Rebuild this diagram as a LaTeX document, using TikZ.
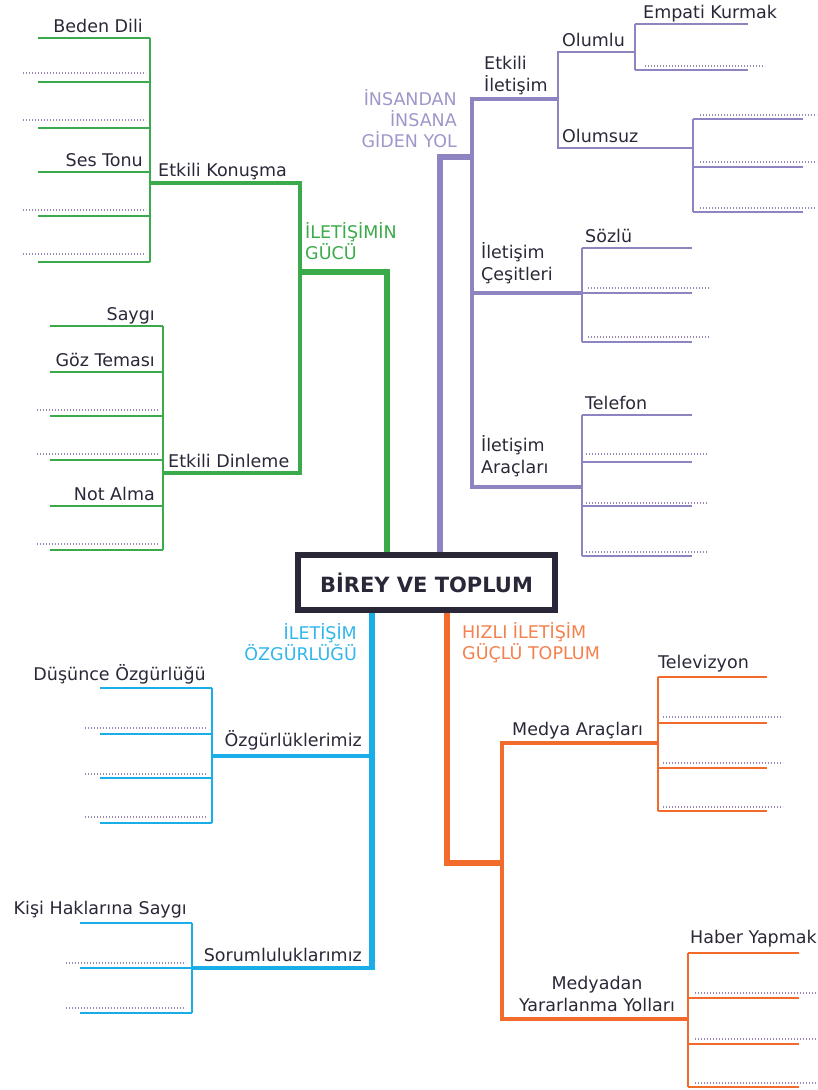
\documentclass[tikz,border=0pt]{standalone}
\usepackage{fontspec}
\setmainfont{DejaVu Sans}
\usetikzlibrary{positioning}
\definecolor{grn}{HTML}{3BAA4A}
\definecolor{prp}{HTML}{8E84C1}
\definecolor{blu}{HTML}{19AEE8}
\definecolor{org}{HTML}{F26B2B}
\definecolor{ink}{HTML}{2A2838}
\definecolor{dotc}{HTML}{9A86B4}
\tikzset{
  trunk/.style={line width=6.5pt},
  branch/.style={line width=3.2pt},
  twig/.style={line width=1.8pt},
  blank/.style={dotc,line width=1.3pt,dash pattern=on 1.2pt off 1.8pt},
  lbl/.style={inner sep=0pt,text=ink,font=\fontsize{17.5}{21.5}\selectfont},
  head/.style={inner sep=0pt,font=\fontsize{17.5}{21}\selectfont},
  hub/.style={draw=ink,line width=6.5pt,minimum width=257pt,minimum height=55pt,
    inner sep=0pt,text=ink,font=\bfseries\fontsize{21}{25}\selectfont}
}

\begin{document}
\begin{tikzpicture}[x=1pt,y=-1pt,line join=miter]
\useasboundingbox (0,0) rectangle (817,1090);
\node[hub] (hub) at (426.5,582.5) {BİREY VE TOPLUM};

% iletisimin gucu
\coordinate (gElbow) at (387,272);
\coordinate (gFork) at (300,272);
\coordinate (konusma) at (150,183);
\coordinate (dinleme) at (163,473);
\draw[trunk,grn] (hub.north -| gElbow) -- (gElbow) -- (gFork);
\draw[branch,grn] (konusma) -| (gFork) |- (dinleme);
\draw[twig,grn] (150,38) -- (150,262);
\foreach \y in {38,82,128,172,216,262} \draw[twig,grn] (38,\y) -- (150,\y);
\foreach \y in {73,120,210,254} \draw[blank] (23,\y) -- (146,\y);
\draw[twig,grn] (163,326) -- (163,550);
\foreach \y in {326,372,416,460,506,550} \draw[twig,grn] (50,\y) -- (163,\y);
\foreach \y in {410,454,544} \draw[blank] (37,\y) -- (158,\y);
\node[head,text=grn,align=left,anchor=base west] (gHead) at (305,259) {İLETİŞİMİN\\GÜCÜ};
\node[lbl,anchor=base west] (gKon) at (158,176) {Etkili Konuşma};
\node[lbl,anchor=base west] (gDin) at (168,467) {Etkili Dinleme};
\node[lbl,anchor=base east] at (143,32) {Beden Dili};
\node[lbl,anchor=base east] at (143,166) {Ses Tonu};
\node[lbl,anchor=base east] at (155,320) {Saygı};
\node[lbl,anchor=base east] at (155,366) {Göz Teması};
\node[lbl,anchor=base east] at (155,500) {Not Alma};

% insandan insana giden yol
\coordinate (pElbow) at (440,157);
\coordinate (pFork) at (472,157);
\coordinate (etkili) at (558,99);
\coordinate (cesit) at (582,293);
\coordinate (arac) at (582,487);
\draw[trunk,prp] (hub.north -| pElbow) -- (pElbow) -- (pFork);
\draw[branch,prp] (etkili) -| (pFork) |- (arac);
\draw[branch,prp] (pFork |- cesit) -- (cesit);
\draw[twig,prp] (635,52) -- (558,52) -- (558,148) -- (693,148);
\draw[twig,prp] (635,24) -- (635,70);
\foreach \y in {24,70} \draw[twig,prp] (635,\y) -- (748,\y);
\draw[blank] (645,66) -- (765,66);
\draw[twig,prp] (693,119) -- (693,212);
\foreach \y in {119,167,212} \draw[twig,prp] (693,\y) -- (803,\y);
\foreach \y in {115,162,208} \draw[blank] (700,\y) -- (817,\y);
\draw[twig,prp] (582,248) -- (582,342);
\foreach \y in {248,293,342} \draw[twig,prp] (582,\y) -- (692,\y);
\foreach \y in {288,337} \draw[blank] (588,\y) -- (710,\y);
\draw[twig,prp] (582,415) -- (582,556);
\foreach \y in {415,462,506,556} \draw[twig,prp] (582,\y) -- (692,\y);
\foreach \y in {454,503,552} \draw[blank] (586,\y) -- (708,\y);
\node[head,text=prp!85,align=right,anchor=base east] (pHead) at (457,147) {İNSANDAN\\İNSANA\\GİDEN YOL};
\node[lbl,align=left,anchor=base west] (pEtk) at (484,91) {Etkili\\İletişim};
\node[lbl,align=left,anchor=base west] (pCes) at (481,280) {İletişim\\Çeşitleri};
\node[lbl,align=left,anchor=base west] (pArc) at (481,473) {İletişim\\Araçları};
\node[lbl,anchor=base west] at (562,46) {Olumlu};
\node[lbl,anchor=base west] at (562,142) {Olumsuz};
\node[lbl,anchor=base west] at (643,18) {Empati Kurmak};
\node[lbl,anchor=base west] at (585,242) {Sözlü};
\node[lbl,anchor=base west] at (585,409) {Telefon};

% iletisim ozgurlugu
\coordinate (bEnd) at (372,970);
\coordinate (ozgur) at (212,756);
\coordinate (sorum) at (192,968);
\draw[trunk,blu] (hub.south -| bEnd) -- (bEnd);
\draw[branch,blu] (ozgur) -- (ozgur -| bEnd);
\draw[branch,blu] (sorum) -- (sorum -| bEnd);
\draw[twig,blu] (212,688) -- (212,823);
\foreach \y in {688,734,778,823} \draw[twig,blu] (100,\y) -- (212,\y);
\foreach \y in {728,774,817} \draw[blank] (85,\y) -- (206,\y);
\draw[twig,blu] (192,923) -- (192,1013);
\foreach \y in {923,968,1013} \draw[twig,blu] (80,\y) -- (192,\y);
\foreach \y in {963,1008} \draw[blank] (66,\y) -- (186,\y);
\node[head,text=blu!90,align=right,anchor=base east] (bHead) at (357,660) {İLETİŞİM\\ÖZGÜRLÜĞÜ};
\node[lbl,anchor=base east] (bOzg) at (362,746) {Özgürlüklerimiz};
\node[lbl,anchor=base east] (bSor) at (362,961) {Sorumluluklarımız};
\node[lbl,anchor=base east] at (206,680) {Düşünce Özgürlüğü};
\node[lbl,anchor=base east] at (187,914) {Kişi Haklarına Saygı};

% hizli iletisim guclu toplum
\coordinate (oElbow) at (447,863);
\coordinate (oFork) at (502,863);
\coordinate (medya) at (658,743);
\coordinate (yarar) at (688,1019);
\draw[trunk,org] (hub.south -| oElbow) -- (oElbow) -- (oFork);
\draw[branch,org] (medya) -| (oFork) |- (yarar);
\draw[twig,org] (658,677) -- (658,811);
\foreach \y in {677,723,768,811} \draw[twig,org] (658,\y) -- (767,\y);
\foreach \y in {717,763,807} \draw[blank] (663,\y) -- (783,\y);
\draw[twig,org] (688,953) -- (688,1087);
\foreach \y in {953,998,1044,1087} \draw[twig,org] (688,\y) -- (799,\y);
\foreach \y in {993,1039,1083} \draw[blank] (695,\y) -- (817,\y);
\node[head,text=org!85,align=left,anchor=base west] (oHead) at (462,659) {HIZLI İLETİŞİM\\GÜÇLÜ TOPLUM};
\node[lbl,anchor=base west] (oMed) at (512,735) {Medya Araçları};
\node[lbl,align=center,anchor=base] (oYar) at (597,1011) {Medyadan\\Yararlanma Yolları};
\node[lbl,anchor=base west] at (658,668) {Televizyon};
\node[lbl,anchor=base west] at (690,943) {Haber Yapmak};
\end{tikzpicture}
\end{document}
